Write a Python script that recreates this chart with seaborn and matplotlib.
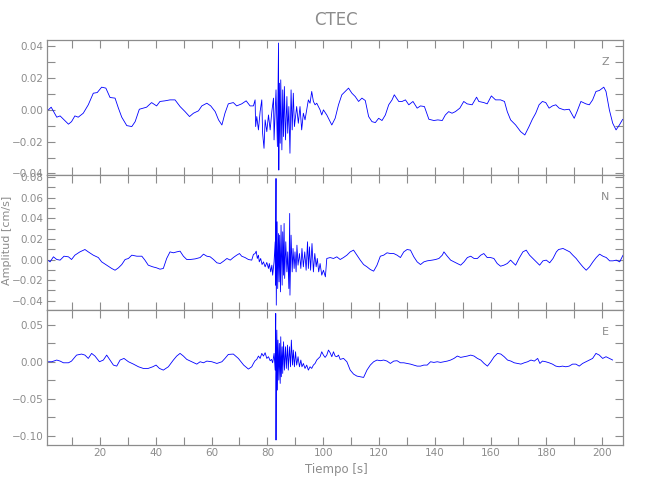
import matplotlib
matplotlib.use("Agg")
import matplotlib.pyplot as plt
from matplotlib.ticker import MultipleLocator, FuncFormatter
import seaborn as sns
import pandas as pd

# Z component (vertical)
t_z = [1.5, 2.5, 4.5, 5.7, 6.9, 8.7, 9.8, 11.0, 12.2, 14.0, 15.8, 17.6, 19.0, 20.6, 22.1, 23.6,
       25.4, 26.6, 27.8, 29.6, 31.4, 32.6, 34.1, 35.5, 36.7, 38.5, 40.3, 41.5, 43.3, 45.1, 46.9,
       48.7, 50.5, 52.1, 53.5, 55.3, 56.5, 58.3, 59.7, 61.3, 62.5, 63.7, 64.8, 66.0, 67.8, 69.0,
       70.8, 72.4, 73.8, 75.0,
       75.6, 75.8, 76.2, 76.8, 77.4, 78.0, 78.3, 78.8, 79.2, 79.8, 80.4, 81.0, 81.6, 82.2, 82.4,
       83.1, 83.6, 84.0, 84.1, 84.3, 84.6, 84.8, 85.2, 85.5, 85.8, 86.1, 86.5, 87.0, 87.3, 87.7,
       88.1, 88.5, 88.9, 89.3, 89.7, 90.1, 90.5, 91.1, 91.7, 92.3, 92.9, 93.5, 94.1, 94.7, 95.3,
       95.9, 96.5, 97.1, 97.7, 98.3, 98.9, 99.5, 100.1,
       101.3, 102.5, 103.1, 104.3, 105.5, 106.7, 107.9, 109.1, 110.3, 111.5, 112.7, 113.9, 115.1,
       116.3, 117.5, 118.7, 119.9, 121.1, 122.3, 123.5, 124.7, 125.5, 127.1, 128.3, 129.5, 130.7,
       132.2, 133.7, 134.9, 136.3, 137.9, 139.7, 141.1, 142.7, 143.8, 145.0, 146.2, 147.4, 149.0,
       150.4, 151.6, 153.4, 155.0, 155.8, 157.6, 158.8, 160.3, 161.8, 163.6, 165.0, 166.0, 167.2,
       169.0, 170.8, 172.3, 173.8, 175.0, 176.2, 177.4, 178.6, 179.8, 181.0, 182.2, 183.4, 184.6,
       186.4, 188.2, 190.0, 191.0, 192.4, 194.2, 195.4, 196.6, 197.8, 199.0, 200.6, 201.4, 202.6,
       203.8, 205.0, 206.2, 207.4]
amp_z = [0.0, 0.0017, -0.0046, -0.0038, -0.0059, -0.0090, -0.0074, -0.0038, -0.0046, -0.0021,
         0.0032, 0.0105, 0.0109, 0.0143, 0.0137, 0.0078, 0.0074, 0.0011, -0.0046, -0.0099, -0.0105,
         -0.0074, 0.0004, 0.0011, 0.0017, 0.0046, 0.0025, 0.0053, 0.0057, 0.0063, 0.0063, 0.0021,
         -0.0011, -0.0042, -0.0021, -0.0006, 0.0025, 0.0042, 0.0025, -0.0011, -0.0063, -0.0095,
         -0.0021, 0.0038, 0.0046, 0.0025, 0.0038, 0.0057, 0.0025, 0.0025,
         0.0063, -0.0105, -0.0042, -0.0126, -0.0011, 0.0063, -0.0147, -0.0242, -0.0063, -0.0137,
         -0.0032, -0.0126, -0.0011, 0.0074, -0.0189, 0.0126, -0.0231, 0.0421, -0.0379, 0.0168,
         -0.0210, 0.0189, -0.0252, 0.0126, -0.0168, 0.0147, -0.0189, 0.0084, -0.0147, 0.0021,
         -0.0273, 0.0126, -0.0126, 0.0105, -0.0105, -0.0042, 0.0021, -0.0084, 0.0021, -0.0126,
         -0.0021, -0.0063, 0.0, 0.0063, 0.0042, 0.0116, 0.0053, 0.0032, 0.0042, 0.0021, 0.0, -0.0032,
         0.0,
         -0.0032, -0.0074, -0.0095, -0.0053, 0.0032, 0.0095, 0.0116, 0.0137, 0.0105, 0.0084, 0.0053,
         0.0074, 0.0059, -0.0042, -0.0074, -0.0080, -0.0053, -0.0067, -0.0032, 0.0032, 0.0063,
         0.0095, 0.0053, 0.0053, 0.0063, 0.0032, 0.0053, 0.0011, 0.0025, 0.0021, -0.0059, -0.0067,
         -0.0063, -0.0067, -0.0032, -0.0011, -0.0021, -0.0011, 0.0011, 0.0053, 0.0038, 0.0032,
         0.0080, 0.0053, 0.0046, 0.0038, 0.0088, 0.0063, 0.0063, 0.0053, -0.0011, -0.0063, -0.0095,
         -0.0137, -0.0158, -0.0105, -0.0059, -0.0021, 0.0032, 0.0053, 0.0046, 0.0011, 0.0025,
         0.0032, 0.0011, 0.0, 0.0004, -0.0053, -0.0011, 0.0053, 0.0038, 0.0032, 0.0063, 0.0116,
         0.0122, 0.0143, 0.0116, 0.0, -0.0084, -0.0126, -0.0095, -0.0059]

# N component (north-south)
t_n = [1.5, 2.1, 3.3, 4.5, 5.7, 7.1, 8.7, 9.8, 11.0, 12.8, 14.6, 15.8, 17.6, 19.4, 20.6, 22.4,
       24.2, 25.4, 26.6, 27.8, 29.0, 30.2, 31.4, 33.2, 35.0, 36.1, 37.3, 38.9, 40.3, 41.5, 42.7,
       43.9, 45.1, 46.3, 47.5, 48.7, 49.9, 51.1, 52.3, 54.1, 55.9, 57.1, 58.3, 59.5, 60.7, 61.9,
       63.1, 64.3, 65.5, 66.7, 67.8, 69.0, 70.0, 70.8, 72.0, 73.2, 74.4,
       75.0, 75.6, 76.0, 76.4, 76.8, 77.1, 77.6, 78.1, 78.6, 79.2, 79.8, 80.4, 80.7, 81.2, 81.6,
       81.9, 82.4, 82.8, 82.9, 83.1, 83.2, 83.5, 83.7, 84.0, 84.2, 84.4, 84.7, 84.9, 85.3, 85.5,
       85.8, 86.0, 86.2, 86.6, 87.0, 87.3, 87.7, 88.0, 88.1, 88.5, 88.9, 89.2, 89.6, 89.9, 90.3,
       90.6, 91.0, 91.5, 92.0, 92.4, 92.9, 93.4, 93.9, 94.4, 94.7, 95.1, 95.5, 96.0, 96.5, 97.0,
       97.5, 97.9, 98.4, 98.9, 99.5, 100.1, 100.8,
       101.3, 102.5, 103.7, 104.9, 106.1, 107.3, 108.5, 109.7, 110.9, 112.1, 113.3, 114.5, 115.7,
       116.9, 118.1, 119.3, 120.5, 121.7, 122.9, 124.1, 125.3, 126.5, 127.7, 128.9, 130.1, 131.3,
       132.5, 133.7, 134.9, 136.1, 137.3, 139.1, 140.3, 141.5, 142.7, 143.3, 144.5, 145.7, 146.9,
       148.1, 149.3, 150.5, 151.7, 152.9, 154.1, 155.3, 156.5, 157.6, 158.8, 160.0, 161.2, 162.4,
       163.6, 164.8, 166.0, 167.2, 167.8, 169.0, 170.2, 171.6, 172.8, 174.0, 175.2, 176.4, 177.6,
       178.8, 180.0, 181.2, 182.4, 183.6, 184.4, 186.0, 187.2, 188.4, 189.5, 190.7, 191.9, 193.1,
       194.3, 195.5, 196.7, 197.9, 199.1, 200.3, 201.5, 202.7, 203.9, 205.1, 206.3, 207.5]
amp_n = [-0.0010, -0.0023, 0.0026, 0.0, -0.0006, 0.0032, 0.0026, 0.0, 0.0042, 0.0074, 0.0097,
         0.0074, 0.0042, 0.0019, -0.0023, -0.0055, -0.0087, -0.0104, -0.0081, -0.0049, 0.0, 0.0010,
         0.0042, 0.0032, 0.0032, -0.0006, -0.0055, -0.0071, -0.0081, -0.0094, -0.0087, 0.0010,
         0.0074, 0.0065, 0.0074, 0.0081, 0.0032, 0.0, 0.0, 0.0006, 0.0019, 0.0052, 0.0032, 0.0026,
         0.0, -0.0032, -0.0039, -0.0016, 0.0010, -0.0006, 0.0019, 0.0042, 0.0058, 0.0032, 0.0019,
         0.0, -0.0006,
         0.0049, 0.0058, 0.0081, 0.0010, 0.0042, -0.0023, 0.0010, -0.0049, -0.0023, -0.0071,
         -0.0029, -0.0087, -0.0039, -0.0120, -0.0055, -0.0152, -0.0023, 0.0172, -0.0249, 0.0786,
         -0.0443, 0.0366, -0.0282, 0.0252, -0.0217, 0.0236, -0.0314, 0.0333, -0.0249, 0.0269,
         -0.0152, 0.0350, -0.0184, 0.0172, -0.0120, 0.0074, -0.0282, 0.0447, -0.0346, 0.0236,
         -0.0120, 0.0107, -0.0087, 0.0074, -0.0120, 0.0139, -0.0055, 0.0058, -0.0087, 0.0107,
         -0.0071, 0.0074, -0.0104, 0.0172, -0.0087, 0.0123, -0.0104, 0.0155, -0.0120, 0.0058,
         -0.0071, 0.0010, -0.0120, -0.0039, -0.0152, -0.0104, -0.0168,
         0.0010, 0.0019, 0.0010, 0.0026, 0.0, 0.0019, 0.0042, 0.0074, 0.0091, 0.0042, -0.0006,
         -0.0049, -0.0071, -0.0097, -0.0113, -0.0055, 0.0032, 0.0042, 0.0065, 0.0058, 0.0058,
         0.0042, 0.0019, 0.0074, 0.0097, 0.0091, 0.0026, -0.0023, -0.0049, -0.0023, -0.0013,
         -0.0006, 0.0, 0.0010, 0.0042, 0.0074, 0.0032, -0.0006, -0.0023, -0.0039, -0.0055, -0.0023,
         0.0019, 0.0032, 0.0010, 0.0010, 0.0042, 0.0058, 0.0019, 0.0019, 0.0010, -0.0039, -0.0065,
         -0.0055, -0.0039, -0.0006, -0.0023, -0.0055, 0.0010, 0.0074, 0.0091, 0.0042, 0.0010,
         -0.0023, -0.0055, -0.0013, -0.0006, -0.0032, 0.0010, 0.0074, 0.0097, 0.0107, 0.0091,
         0.0074, 0.0042, 0.0010, -0.0032, -0.0071, -0.0104, -0.0071, -0.0023, 0.0019, 0.0052,
         0.0032, 0.0019, -0.0013, -0.0013, -0.0006, -0.0023, 0.0042]

# E component (east-west)
t_e = [1.5, 2.7, 4.5, 5.7, 6.9, 8.7, 9.8, 11.6, 13.4, 14.6, 15.8, 17.0, 18.2, 19.8, 21.2, 22.4,
       23.6, 24.8, 26.0, 27.2, 28.6, 30.2, 32.0, 33.8, 35.5, 37.3, 38.9, 40.1, 41.3, 42.7, 44.5,
       46.3, 47.5, 48.7, 49.9, 51.1, 52.9, 54.7, 55.9, 57.1, 58.3, 60.1, 61.9, 63.7, 64.8, 66.0,
       67.8, 69.6, 71.5, 73.2,
       74.4, 75.0, 75.6, 76.2, 76.8, 77.4, 78.0, 78.6, 79.2, 79.8, 80.4, 81.0, 81.5, 81.9, 82.4,
       82.8, 83.0, 83.1, 83.2, 83.4, 83.6, 83.8, 84.1, 84.3, 84.6, 84.8, 85.0, 85.3, 85.5, 85.8,
       86.1, 86.5, 86.8, 87.2, 87.5, 87.9, 88.3, 88.6, 89.0, 89.3, 89.7, 90.1, 90.5, 91.0, 91.5,
       92.0, 92.4, 92.9, 93.5, 94.1, 94.7, 95.3, 95.9, 96.5, 97.1, 97.7, 98.3, 98.9, 99.5, 100.1,
       100.7, 101.3, 101.9, 102.5, 103.1, 103.7, 104.3, 104.9, 105.5, 106.1, 107.3, 108.5, 109.7,
       110.9, 112.1, 113.3, 114.5, 115.7, 116.9, 118.1, 119.3, 120.5, 121.7, 122.9, 124.1, 125.3,
       126.5, 127.7, 128.9, 130.1, 131.3, 132.5, 133.7, 134.9, 136.1, 137.3, 138.5, 139.7, 140.9,
       142.1, 143.3, 144.5, 145.7, 146.9, 148.1, 149.3, 150.5, 151.7, 152.9, 154.1, 155.3, 156.5,
       157.7, 158.9, 160.1, 161.3, 162.5, 163.7, 164.9, 166.1, 167.3, 168.5, 169.7, 170.9, 172.1,
       173.3, 174.5, 175.7, 176.9, 177.7, 178.6, 179.8, 181.0, 182.2, 183.4, 184.6, 185.8, 187.0,
       188.2, 189.4, 190.6, 191.8, 193.0, 194.2, 195.4, 196.6, 197.8, 199.0, 200.2, 201.4, 202.6,
       203.8]
amp_e = [0.0, 0.0, 0.0023, 0.0009, -0.0014, -0.0014, 0.0009, 0.0090, 0.0104, 0.0090, 0.0045,
         0.0113, 0.0077, 0.0, 0.0023, 0.0090, 0.0023, -0.0045, -0.0059, 0.0023, 0.0045, 0.0,
         -0.0032, -0.0068, -0.0090, -0.0090, -0.0068, -0.0045, -0.0090, -0.0113, -0.0068, 0.0023,
         0.0077, 0.0113, 0.0077, 0.0032, 0.0, -0.0032, 0.0, -0.0014, 0.0009, 0.0, -0.0023, 0.0,
         0.0045, 0.0099, 0.0104, 0.0045, -0.0045, -0.0099,
         -0.0068, -0.0023, 0.0014, 0.0032, 0.0077, 0.0045, 0.0113, 0.0077, 0.0122, 0.0045, 0.0068,
         0.0014, 0.0032, -0.0014, 0.0113, -0.0113, 0.0653, -0.1059, -0.0203, 0.0428, -0.0383,
         0.0293, -0.0248, 0.0248, -0.0293, 0.0338, -0.0203, 0.0203, -0.0158, 0.0270, -0.0113,
         0.0203, -0.0090, 0.0225, -0.0113, 0.0203, -0.0068, 0.0293, -0.0045, 0.0158, -0.0068,
         0.0135, -0.0045, 0.0068, -0.0068, 0.0023, -0.0068, -0.0023, -0.0090, -0.0045, -0.0113,
         -0.0068, -0.0090, -0.0045, -0.0023, 0.0023, 0.0045, 0.0068, 0.0135, 0.0090,
         0.0059, 0.0090, 0.0158, 0.0122, 0.0068, 0.0135, 0.0077, 0.0068, 0.0090, 0.0032, 0.0045,
         0.0, -0.0113, -0.0167, -0.0194, -0.0203, -0.0212, -0.0113, -0.0045, 0.0, 0.0023, 0.0014,
         0.0023, 0.0009, -0.0023, 0.0009, 0.0014, -0.0014, -0.0014, -0.0023, -0.0032, -0.0045,
         -0.0059, -0.0059, -0.0045, -0.0045, 0.0, -0.0009, 0.0, -0.0009, 0.0, 0.0009, 0.0023,
         0.0045, 0.0077, 0.0059, 0.0068, 0.0077, 0.0090, 0.0077, 0.0045, 0.0023, -0.0023, -0.0059,
         0.0, 0.0068, 0.0113, 0.0104, 0.0068, 0.0023, 0.0009, -0.0014, -0.0023, -0.0032, -0.0014,
         0.0, 0.0023, 0.0009, 0.0045, -0.0023, 0.0009, 0.0, -0.0014, -0.0032, -0.0059, -0.0068,
         -0.0059, -0.0068, -0.0059, -0.0032, -0.0032, -0.0059, -0.0023, 0.0, 0.0023, 0.0045,
         0.0113, 0.0090, 0.0045, 0.0068, 0.0045, 0.0023]

channels = ["Z", "N", "E"]
series = [(t_z, amp_z), (t_n, amp_n), (t_e, amp_e)]
ylims = [(-0.041, 0.044), (-0.049, 0.082), (-0.1126, 0.070)]
ymajor = [0.02, 0.02, 0.05]
yminor = [0.01, 0.01, 0.025]

sns.set_theme(style="ticks")
grey = "#8c8c8c"
plt.rcParams["font.family"] = ["DejaVu Sans"]


def fmt(v, pos):
    s = "%.2f" % v
    if s == "-0.00":
        s = "0.00"
    return s.replace("-", "\u2212")


fig, axes = plt.subplots(3, 1, figsize=(6.5, 5), dpi=100, sharex=True)
fig.subplots_adjust(left=0.0723, right=0.9585, top=0.92, bottom=0.11, hspace=0)

for ax, ch, (t, a), yl, ma, mi in zip(axes, channels, series, ylims, ymajor, yminor):
    df = pd.DataFrame({"t": t, "amp": a})
    sns.lineplot(data=df, x="t", y="amp", ax=ax, color="blue", linewidth=0.6,
                 estimator=None, sort=False)
    ax.set_xlim(1, 207.5)
    ax.set_ylim(*yl)
    ax.xaxis.set_major_locator(MultipleLocator(20))
    ax.xaxis.set_minor_locator(MultipleLocator(10))
    ax.yaxis.set_major_locator(MultipleLocator(ma))
    ax.yaxis.set_minor_locator(MultipleLocator(mi))
    ax.yaxis.set_major_formatter(FuncFormatter(fmt))
    ax.tick_params(which="both", direction="in", top=True, right=True, length=6,
                   color=grey, labelcolor=grey, labelsize=7.5, width=0.8, pad=2.5)
    for sp in ax.spines.values():
        sp.set_color(grey)
        sp.set_linewidth(0.9)
    ax.set_xlabel("")
    ax.set_ylabel("")
    ax.text(0.969, 0.837, ch, transform=ax.transAxes, ha="center", va="center",
            color=grey, fontsize=8)

fig.text(0.517, 0.96, "CTEC", ha="center", va="center", color=grey, fontsize=12)
fig.text(0.517, 0.06, "Tiempo [s]", ha="center", va="center", color=grey, fontsize=8.5)
fig.text(0.011, 0.52, "Amplitud [cm/s]", ha="center", va="center", rotation=90,
         color=grey, fontsize=8)

fig.savefig("out.png", dpi=100)
